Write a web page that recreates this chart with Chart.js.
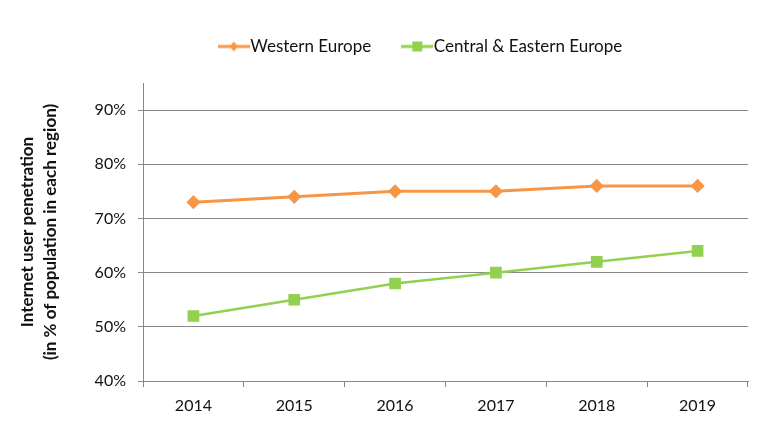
<!DOCTYPE html>
<html>
<head>
<meta charset="utf-8">
<script src="https://cdn.jsdelivr.net/npm/chart.js@4/dist/chart.umd.min.js"></script>
<style>
body{margin:0;background:#fff;}
#wrap{width:764px;height:425px;}
</style>
</head>
<body>
<div id="wrap"><canvas id="chart" width="764" height="425"></canvas></div>
<script>
const years = ["2014","2015","2016","2017","2018","2019"];
const western = [73, 74, 75, 75, 76, 76];
const central = [52, 55, 58, 60, 62, 64];
const yTicks = [40, 50, 60, 70, 80, 90];

const ORANGE = "#F79646";
const GREEN = "#92D050";
const GRID = "#878787";
const FONT = "Lato";

// legend swatch: line with marker on top
function swatch(color, style){
    const c = document.createElement("canvas");
    c.width = 32; c.height = 14;
    const g = c.getContext("2d");
    g.strokeStyle = color; g.lineWidth = 3;
    g.beginPath(); g.moveTo(0,7); g.lineTo(32,7); g.stroke();
    g.fillStyle = color;
    if(style === "diamond"){
        g.beginPath(); g.moveTo(16,2); g.lineTo(20,7); g.lineTo(16,12); g.lineTo(12,7); g.closePath(); g.fill();
    } else {
        g.fillRect(11,2,10,10);
    }
    return c;
}
const swatches = [swatch(ORANGE,"diamond"), swatch(GREEN,"square")];

// move legend to where the original sits
const legendShift = {
    id: "legendShift",
    afterLayout(chart){
        const l = chart.legend;
        l.left += 50; l.right += 50;
        l.top -= 18; l.bottom -= 18;
    }
};

new Chart(document.getElementById("chart").getContext("2d"), {
    type: "line",
    data: {
        labels: years,
        datasets: [
            {label:"Western Europe", data:western, borderColor:ORANGE, backgroundColor:ORANGE,
             borderWidth:3, pointStyle:"rectRot", pointRadius:5, pointHoverRadius:5, tension:0},
            {label:"Central & Eastern Europe", data:central, borderColor:GREEN, backgroundColor:GREEN,
             borderWidth:2.5, pointStyle:"rect", pointRadius:6.5, pointHoverRadius:6.5, tension:0}
        ]
    },
    plugins: [legendShift],
    options: {
        responsive: false,
        animation: false,
        layout: {padding:{top:18, right:16, left:0, bottom:0}},
        plugins: {
            tooltip: {enabled:false},
            legend: {
                position: "top",
                labels: {
                    font: {family:FONT, size:17},
                    color: "#111",
                    usePointStyle: true,
                    pointStyleWidth: 16,
                    padding: 38,
                    generateLabels: chart => chart.data.datasets.map((d,i)=>({
                        text: d.label, pointStyle: swatches[i], fillStyle: d.borderColor,
                        strokeStyle: d.borderColor, lineWidth: 0, datasetIndex: i, fontColor: "#111"
                    }))
                }
            }
        },
        scales: {
            x: {
                offset: true,
                grid: {offset:true, drawOnChartArea:false, drawTicks:true, tickLength:6, color:GRID},
                border: {color:GRID, width:1},
                ticks: {font:{family:FONT, size:16}, color:"#111", padding:9, maxRotation:0},
                afterFit: s => { s.height = 44; }
            },
            y: {
                min: 40, max: 95,
                afterBuildTicks: s => { s.ticks = yTicks.map(v=>({value:v})); },
                grid: {color:GRID, drawTicks:true, tickLength:5},
                border: {color:GRID, width:1},
                ticks: {font:{family:FONT, size:16}, color:"#111", padding:12, callback: v => v + "%"},
                title: {
                    display: true,
                    text: ["Internet user penetration", "(in % of population in each region)"],
                    font: {family:FONT, size:17, weight:"bold", lineHeight:1.35},
                    color: "#111",
                    padding: {top:16.5, bottom:0}
                },
                afterFit: s => { s.width = 143; }
            }
        }
    }
});
</script>
</body>
</html>
